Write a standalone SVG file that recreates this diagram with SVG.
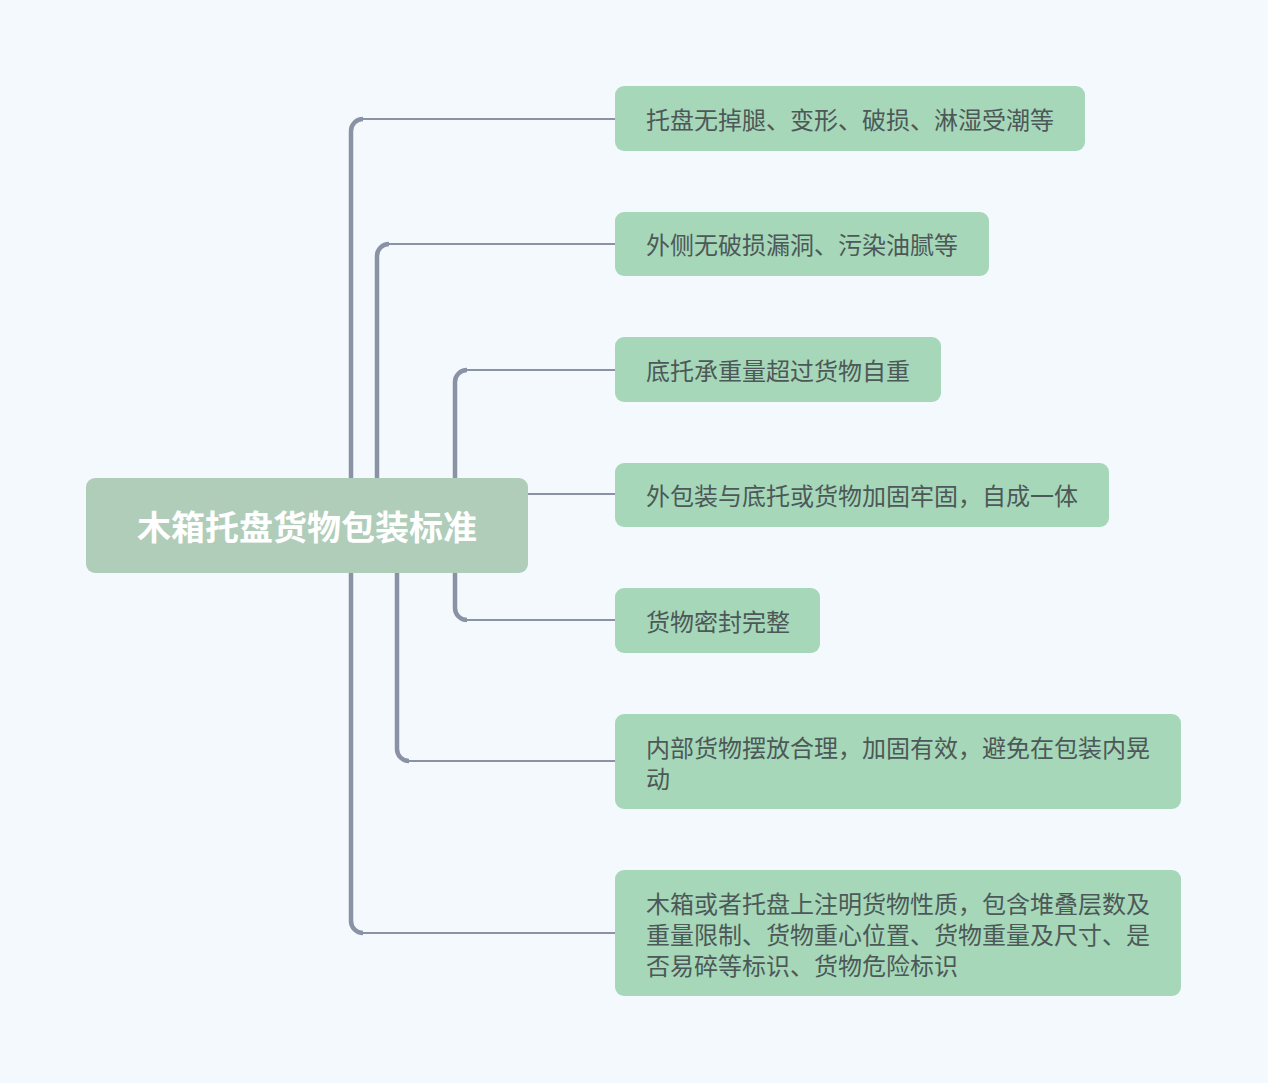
<svg xmlns="http://www.w3.org/2000/svg" width="1268" height="1083" viewBox="0 0 1268 1083">
<style>
.bg{fill:#f4f9fd}
.root{fill:#b0cdb9}
.node{fill:#a6d7b9}
.rt{font-family:"Noto Sans CJK SC","Noto Sans",sans-serif;font-size:34px;font-weight:bold;fill:#ffffff;text-anchor:middle;dominant-baseline:central}
.t{font-family:"Noto Sans CJK SC","Noto Sans",sans-serif;font-size:24px;fill:#4d5858;dominant-baseline:central}
.v{fill:none;stroke:#8a93a6;stroke-width:4.5;stroke-linecap:butt}
.h{fill:none;stroke:#8a93a6;stroke-width:2}
</style>
<rect class="bg" x="0" y="0" width="1268" height="1083"/>
<g id="connectors">
  <path class="v" d="M351,478 V131 A12,12 0 0 1 363,119"/>
  <path class="h" d="M362,119 H615"/>
  <path class="v" d="M377,478 V256 A12,12 0 0 1 389,244"/>
  <path class="h" d="M388,244 H615"/>
  <path class="v" d="M455,478 V382 A12,12 0 0 1 467,370"/>
  <path class="h" d="M466,370 H615"/>
  <path class="h" d="M528,494 H615"/>
  <path class="v" d="M455,573 V608 A12,12 0 0 0 467,620"/>
  <path class="h" d="M466,620 H615"/>
  <path class="v" d="M397,573 V749 A12,12 0 0 0 409,761"/>
  <path class="h" d="M408,761 H615"/>
  <path class="v" d="M351,573 V921 A12,12 0 0 0 363,933"/>
  <path class="h" d="M362,933 H615"/>
</g>
<g id="root">
  <rect class="root" x="86" y="478" width="442" height="95" rx="9"/>
  <text class="rt" x="307" y="525">木箱托盘货物包装标准</text>
</g>
<g id="n1">
  <rect class="node" x="615" y="86" width="470" height="65" rx="9"/>
  <text class="t" x="646" y="118">托盘无掉腿、变形、破损、淋湿受潮等</text>
</g>
<g id="n2">
  <rect class="node" x="615" y="212" width="374" height="64" rx="9"/>
  <text class="t" x="646" y="243">外侧无破损漏洞、污染油腻等</text>
</g>
<g id="n3">
  <rect class="node" x="615" y="337" width="326" height="65" rx="9"/>
  <text class="t" x="646" y="369">底托承重量超过货物自重</text>
</g>
<g id="n4">
  <rect class="node" x="615" y="463" width="494" height="64" rx="9"/>
  <text class="t" x="646" y="494">外包装与底托或货物加固牢固，自成一体</text>
</g>
<g id="n5">
  <rect class="node" x="615" y="588" width="205" height="65" rx="9"/>
  <text class="t" x="646" y="620">货物密封完整</text>
</g>
<g id="n6">
  <rect class="node" x="615" y="714" width="566" height="95" rx="9"/>
  <text class="t"><tspan x="646" y="746">内部货物摆放合理，加固有效，避免在包装内晃</tspan><tspan x="646" y="777">动</tspan></text>
</g>
<g id="n7">
  <rect class="node" x="615" y="870" width="566" height="126" rx="9"/>
  <text class="t"><tspan x="646" y="902">木箱或者托盘上注明货物性质，包含堆叠层数及</tspan><tspan x="646" y="933">重量限制、货物重心位置、货物重量及尺寸、是</tspan><tspan x="646" y="964">否易碎等标识、货物危险标识</tspan></text>
</g>
</svg>
